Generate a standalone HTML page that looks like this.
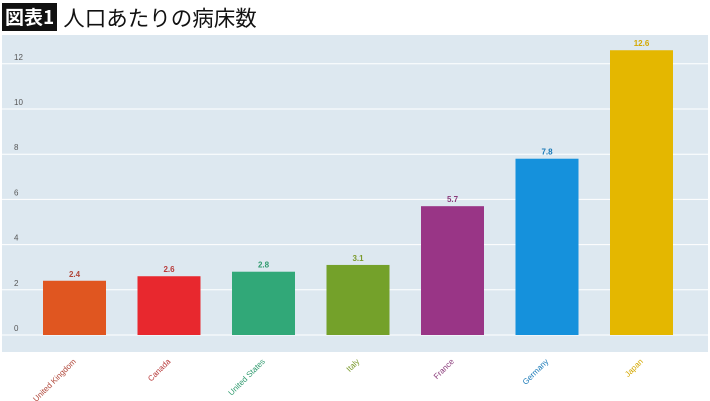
<!DOCTYPE html>
<html><head><meta charset="utf-8"><style>
body{margin:0;width:710px;height:401px;background:#fff;overflow:hidden;font-family:"Liberation Sans","Noto Sans CJK JP",sans-serif}
#hdr{position:absolute;left:2px;top:3px;height:28px;display:flex;align-items:center}
#tag{background:#111;color:#fff;font-weight:bold;font-size:19px;padding:0 3px;height:28px;line-height:28px;font-family:"Noto Sans CJK JP",sans-serif}
#ttl{margin-left:6px;font-size:21.5px;color:#111;font-family:"Noto Sans CJK JP",sans-serif}
svg{position:absolute;left:0;top:0}
</style></head><body>
<div id="hdr"><span id="tag">図表1</span><span id="ttl">人口あたりの病床数</span></div>
<svg id="c" width="710" height="401"></svg>
<script>
const categories=["United Kingdom","Canada","United States","Italy","France","Germany","Japan"];
const values=[2.4,2.6,2.8,3.1,5.7,7.8,12.6];
const colors=["#e05620","#e8282e","#31a878","#74a12a","#993586","#1591dc","#e4b700"];
const textColors=["#b0473a","#b83a3a","#2f9a6e","#7a9a2a","#8a3a7a","#1a7ab8","#d4a800"];
const ticks=[0,2,4,6,8,10,12];
const NS="http://www.w3.org/2000/svg",svg=document.getElementById('c');
const y=v=>335-v*22.6, x=i=>74.5+i*94.5;
function mk(t,a,p){const e=document.createElementNS(NS,t);for(const k in a)e.setAttribute(k,a[k]);(p||svg).appendChild(e);return e;}
const bg=mk('rect',{x:2,y:35,width:706,height:317,fill:'#dde8f0'});


ticks.forEach(t=>{
 const l=mk('line',{x1:2,x2:708,y1:y(t),y2:y(t),stroke:'#fff','stroke-width':1});
 
 
 const tx=mk('text',{x:14,y:y(t)-4,'font-size':8,fill:'#555'});tx.textContent=t;
 
 
});
values.forEach((v,i)=>{
 const r=mk('rect',{x:x(i)-31.5,y:y(v),width:63,height:y(0)-y(v),fill:colors[i]});
 
 
 const t=mk('text',{x:x(i),y:y(v)-4,'font-size':8,'font-weight':'bold','text-anchor':'middle',fill:textColors[i]});t.textContent=v;
 
 
 const c=mk('text',{x:x(i)+2,y:362,'font-size':8,'text-anchor':'end',fill:textColors[i],transform:`rotate(-45 ${x(i)+2} 362)`});c.textContent=categories[i];
 
 
});
</script>
</body></html>
